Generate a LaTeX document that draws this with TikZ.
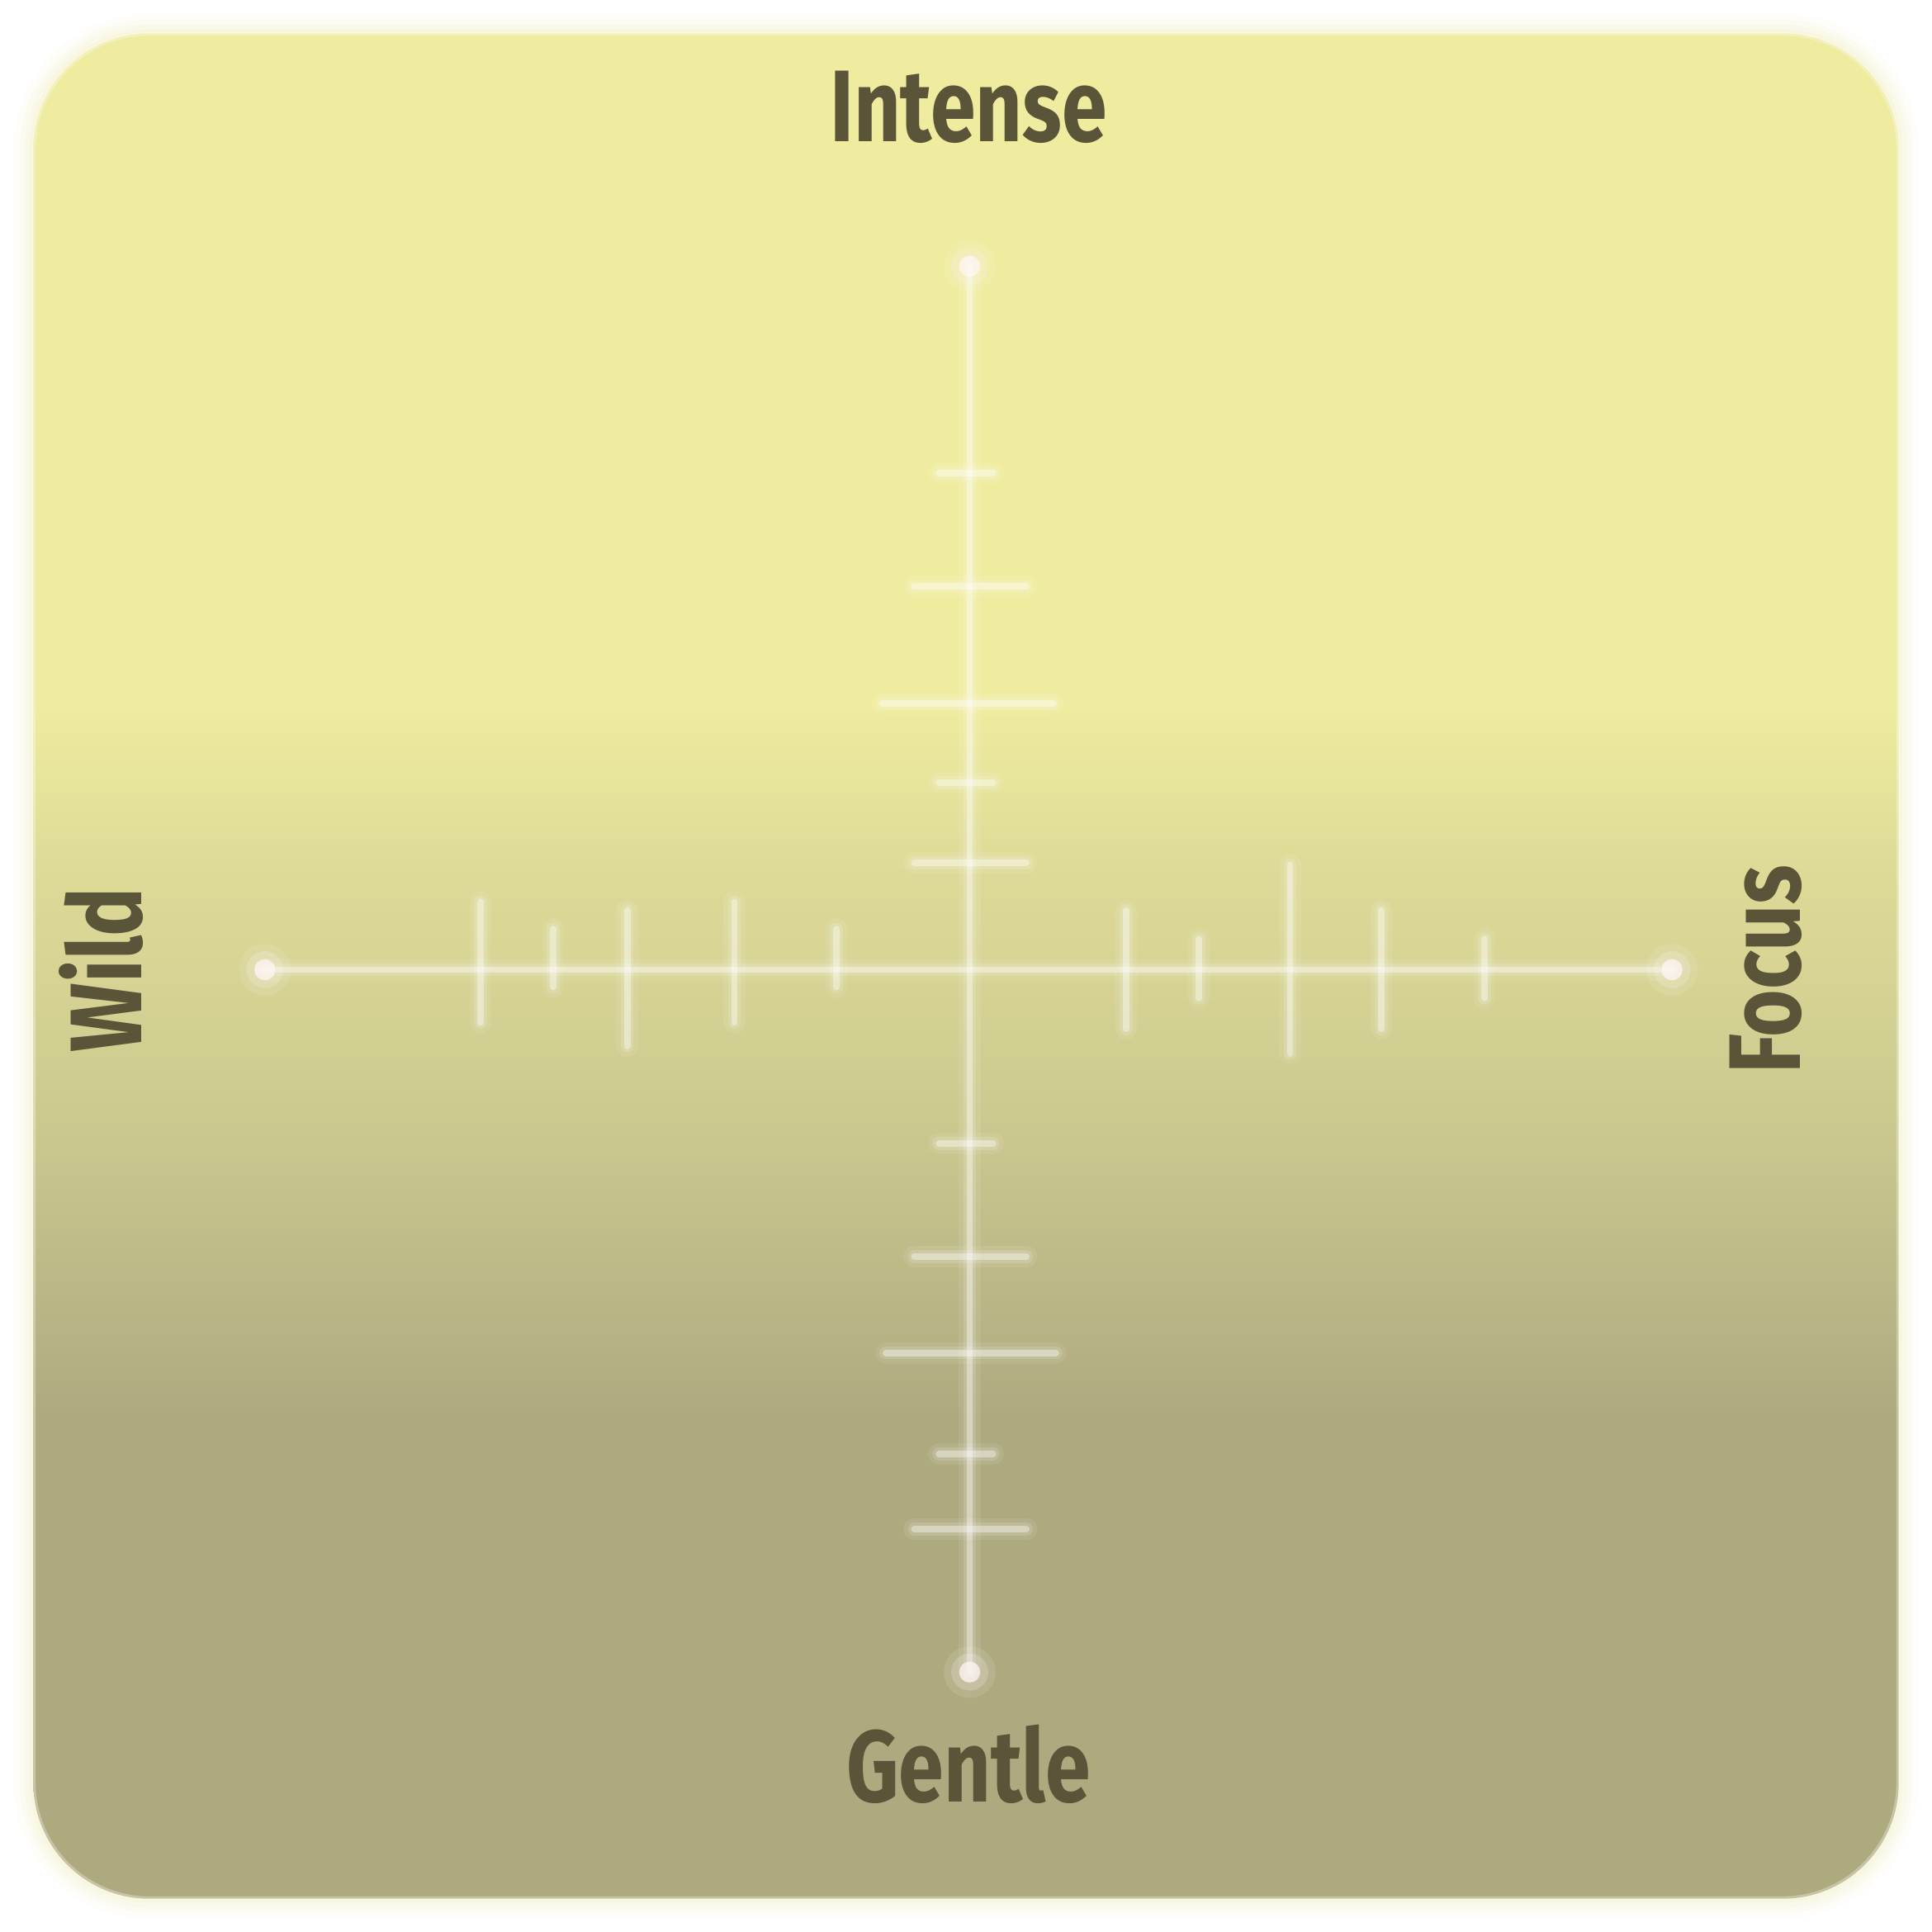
\documentclass[tikz,border=0pt]{standalone}
\usepackage{fontspec}
\newfontfamily\labfont{Fira Sans}[FakeStretch=0.8]
\definecolor{ctop}{RGB}{239,236,159}
\definecolor{cm1}{RGB}{222,219,152}
\definecolor{cm2}{RGB}{205,202,144}
\definecolor{cbot}{RGB}{174,170,128}
\definecolor{glowc}{RGB}{240,234,160}
\definecolor{labc}{RGB}{90,84,57}
\definecolor{dotc}{RGB}{255,246,246}
\pgfdeclareverticalshading{cardshade}{100bp}{color(0bp)=(cbot); color(37.9bp)=(cbot); color(46.2bp)=(cm2); color(52.8bp)=(cm1); color(57bp)=(ctop); color(100bp)=(ctop)}
\tikzset{
  glowline/.style={draw=white, line cap=round, line width=1.5pt, draw opacity=0.38,
    preaction={draw=white, draw opacity=0.08, line width=5pt, line cap=round},
    preaction={draw=white, draw opacity=0.14, line width=3pt, line cap=round}},
  enddot/.style={circle, fill=dotc, inner sep=0pt, minimum size=0.17cm, fill opacity=0.75},
  lab/.style={font=\labfont\bfseries\fontsize{23.5}{24}\selectfont, text=labc, inner sep=0pt}
}
\begin{document}
\begin{tikzpicture}[x=0.01cm,y=-0.01cm]
\useasboundingbox[fill=white] (0,0) rectangle (1568,1568);
% glow around the card
\foreach \d/\o in {16/0.06, 11/0.08, 7/0.1, 3/0.15}{
  \pgfmathsetmacro\rr{(94+\d)*0.01}
  \fill[glowc, opacity=\o, rounded corners=\rr cm] (27-\d,27-\d) rectangle (1541+\d,1541+\d);
}
% card
\shade[shading=cardshade, rounded corners=0.94cm] (27,27) rectangle (1541,1541);
\draw[white, draw opacity=0.3, line width=0.8pt, rounded corners=0.94cm] (27.5,27.5) rectangle (1540.5,1540.5);
% axis coordinates
\coordinate (top) at (787,216);
\coordinate (bottom) at (787,1357);
\coordinate (left) at (215,787);
\coordinate (right) at (1357,787);
% axes
\draw[glowline] (left) -- (right);
\draw[glowline] (top) -- (bottom);
% ticks on vertical axis
\foreach \y/\a/\b in {384/762/806, 476/742/833, 571/716/855, 635/762/806, 700/742/833,
                      928/762/806, 1020/742/833, 1098/719/857, 1180/762/806, 1241/742/833}{
  \draw[glowline] (\a,\y) -- (\b,\y);
}
% ticks on horizontal axis
\foreach \x/\a/\b in {390/732/830, 449/754/801, 509/739/849, 596/732/830, 679/754/801,
                      914/739/835, 973/762/810, 1047/702/855, 1121/739/835, 1205/762/810}{
  \draw[glowline] (\x,\a) -- (\x,\b);
}
% end dots
\foreach \p in {top,bottom,left,right}{
  \fill[white, opacity=0.1] (\p) circle (0.21cm);
  \fill[dotc, opacity=0.22] (\p) circle (0.15cm);
  \node[enddot] (dot-\p) at (\p) {};
}
% labels
\node[lab] (intense) at (786,87) {Intense};
\node[lab] (gentle) at (786,1432) {Gentle};
\node[lab, rotate=90] (wild) at (82,787) {Wild};
\node[lab, rotate=90] (focus) at (1433,787) {Focus};
\end{tikzpicture}
\end{document}
